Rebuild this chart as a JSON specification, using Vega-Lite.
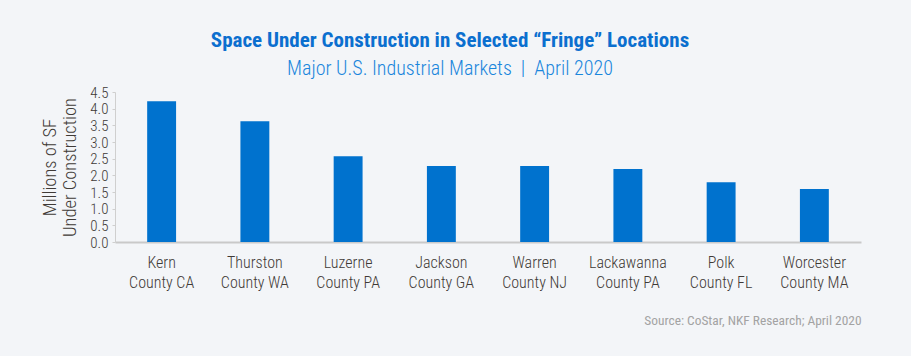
{
  "$schema": "https://vega.github.io/schema/vega-lite/v6.json",
  "width": 746,
  "height": 150,
  "autosize": {"type": "none"},
  "padding": {"left": 115, "top": 92, "right": 50, "bottom": 114},
  "background": "#f3f5f8",
  "title": {
    "text": "Space Under Construction in Selected “Fringe” Locations",
    "subtitle": "Major U.S. Industrial Markets \u00a0|\u00a0 April 2020",
    "font": "Roboto Condensed, Liberation Sans Narrow, Roboto",
    "fontSize": 21,
    "fontWeight": "bold",
    "color": "#0b6fcf",
    "subtitleFont": "Roboto Condensed, Liberation Sans Narrow, Roboto",
    "subtitleFontSize": 20,
    "subtitleFontWeight": 300,
    "subtitleColor": "#1a86dc",
    "subtitlePadding": 8,
    "anchor": "middle",
    "dx": -38,
    "offset": 6
  },
  "data": {
    "values": [
      {"market": "Kern County CA", "value": 4.22},
      {"market": "Thurston County WA", "value": 3.62},
      {"market": "Luzerne County PA", "value": 2.57},
      {"market": "Jackson County GA", "value": 2.28},
      {"market": "Warren County NJ", "value": 2.28},
      {"market": "Lackawanna County PA", "value": 2.19},
      {"market": "Polk County FL", "value": 1.79},
      {"market": "Worcester County MA", "value": 1.59}
    ]
  },
  "mark": {"type": "bar", "color": "#0072ce"},
  "encoding": {
    "x": {
      "field": "market",
      "type": "nominal",
      "sort": null,
      "scale": {"paddingInner": 0.69, "paddingOuter": 0.345},
      "axis": {
        "title": "Source: CoStar, NKF Research; April 2020",
        "titleAnchor": "end",
        "titleFont": "Roboto Condensed, Liberation Sans Narrow, Roboto",
        "titleFontSize": 13.4,
        "titleFontWeight": "normal",
        "titleColor": "#a3a3a3",
        "titlePadding": 23,
        "labelAngle": 0,
        "labelExpr": "[slice(datum.label, 0, indexof(datum.label, ' ')), slice(datum.label, indexof(datum.label, ' ') + 1)]",
        "labelFont": "Roboto Condensed, Liberation Sans Narrow, Roboto",
        "labelFontSize": 16,
        "labelFontWeight": 300,
        "labelColor": "#3f3a36",
        "labelLineHeight": 20,
        "labelPadding": 12,
        "ticks": false,
        "domainColor": "#c9c9c9",
        "domainWidth": 2
      }
    },
    "y": {
      "field": "value",
      "type": "quantitative",
      "scale": {"domain": [0, 4.5], "nice": false},
      "axis": {
        "title": ["Millions of SF", "Under Construction"],
        "titleFont": "Roboto Condensed, Liberation Sans Narrow, Roboto",
        "titleFontSize": 18.5,
        "titleFontWeight": 300,
        "titleColor": "#3f3a36",
        "titleLineHeight": 20,
        "titlePadding": 10,
        "values": [0, 0.5, 1, 1.5, 2, 2.5, 3, 3.5, 4, 4.5],
        "format": ".1f",
        "labelFont": "Roboto Condensed, Liberation Sans Narrow, Roboto",
        "labelFontSize": 15,
        "labelFontWeight": 300,
        "labelColor": "#3f3a36",
        "labelPadding": 4,
        "grid": false,
        "tickSize": 3,
        "tickColor": "#cfcfcf",
        "domainColor": "#cfcfcf"
      }
    }
  },
  "config": {"view": {"stroke": null}}
}
